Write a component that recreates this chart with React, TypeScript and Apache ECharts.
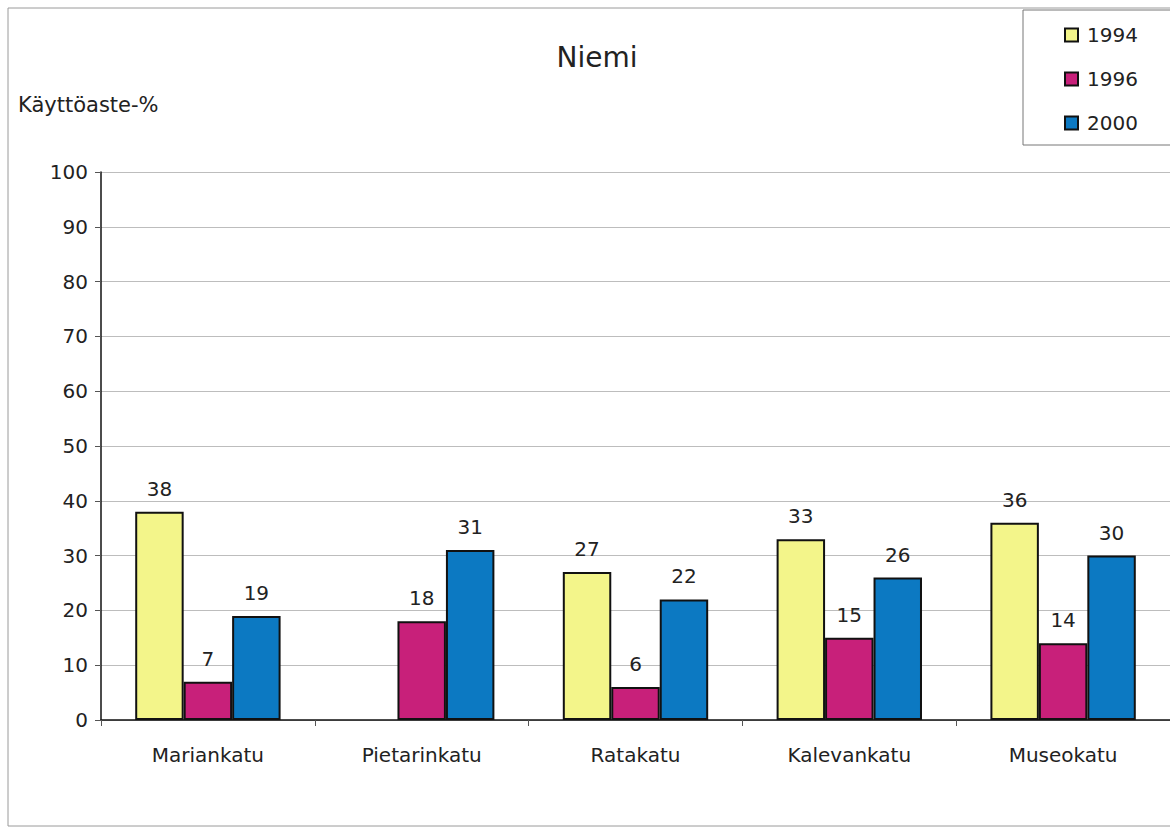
import React, { useEffect, useRef } from "react";
import * as echarts from "echarts";

const categories = ["Mariankatu", "Pietarinkatu", "Ratakatu", "Kalevankatu", "Museokatu"];
const seriesNames = ["1994", "1996", "2000"];
const values1994: (number | null)[] = [38, null, 27, 33, 36];
const values1996: (number | null)[] = [7, 18, 6, 15, 14];
const values2000: (number | null)[] = [19, 31, 22, 26, 30];
const yTicks = [0, 10, 20, 30, 40, 50, 60, 70, 80, 90, 100];

const colors = ["#f3f58a", "#c8207a", "#0c79c2"];
const FONT = "'DejaVu Sans', Verdana, sans-serif";

export default function App() {
  const ref = useRef<HTMLDivElement>(null);
  useEffect(() => {
    if (!ref.current) return;
    const chart = echarts.init(ref.current, undefined, { renderer: "svg" });
    const data = [values1994, values1996, values2000];
    chart.setOption({
      animation: false,
      backgroundColor: "#ffffff",
      textStyle: { fontFamily: FONT },
      title: {
        text: "Niemi",
        left: 592,
        top: 38,
        textAlign: "center",
        textStyle: { fontFamily: FONT, fontSize: 28, fontWeight: "normal", color: "#222" },
      },
      legend: {
        orient: "vertical",
        left: 1064,
        top: 25,
        padding: 0,
        itemGap: 24,
        itemWidth: 13,
        itemHeight: 13,
        icon: "rect",
        data: seriesNames,
        textStyle: { fontFamily: FONT, fontSize: 20, color: "#222", padding: [0, 0, 0, 4] },
      },
      graphic: [
        {
          type: "rect",
          shape: { x: 8, y: 8, width: 1200, height: 818 },
          style: { fill: "none", stroke: "#9a9a9a", lineWidth: 1 },
          silent: true,
          z: -1,
        },
        {
          type: "rect",
          shape: { x: 1023, y: 10, width: 200, height: 135 },
          style: { fill: "none", stroke: "#777", lineWidth: 1 },
          silent: true,
        },
        {
          type: "text",
          x: 18,
          y: 105,
          style: {
            text: "Käyttöaste-%",
            font: `21px ${FONT}`,
            fill: "#222",
            textVerticalAlign: "middle",
            verticalAlign: "middle",
          },
        },
      ],
      grid: { left: 101, top: 172, bottom: 109, right: -7 },
      xAxis: {
        type: "category",
        data: categories,
        axisLine: { show: true, lineStyle: { color: "#111", width: 1.5 } },
        axisTick: { show: true, length: 6, lineStyle: { color: "#555" } },
        axisLabel: { margin: 25, fontFamily: FONT, fontSize: 20, color: "#222" },
      },
      yAxis: {
        type: "value",
        min: 0,
        max: 100,
        interval: 10,
        axisLine: { show: true, lineStyle: { color: "#111", width: 1.5 } },
        axisTick: { show: true, length: 6, lineStyle: { color: "#555" } },
        axisLabel: {
          margin: 13,
          fontFamily: FONT,
          fontSize: 20,
          color: "#222",
          customValues: yTicks,
        },
        splitLine: { show: true, lineStyle: { color: "#bdbdbd", width: 1 } },
      },
      series: seriesNames.map((name, i) => ({
        name,
        type: "bar",
        data: data[i],
        barGap: "0%",
        barCategoryGap: "32%",
        itemStyle: { color: colors[i], borderColor: "#111", borderWidth: 2 },
        label: {
          show: true,
          position: "top",
          distance: 13,
          fontFamily: FONT,
          fontSize: 20,
          color: "#222",
        },
      })),
    });
    return () => chart.dispose();
  }, []);
  return (
    <div
      ref={ref}
      style={{ position: "fixed", left: 0, top: 0, width: 1170, height: 829 }}
    />
  );
}
